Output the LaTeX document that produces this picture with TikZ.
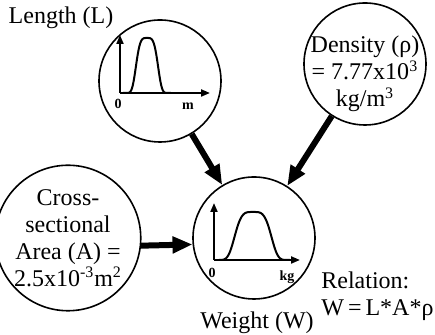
\documentclass[tikz,border=0pt]{standalone}
\usepackage{fontspec}
\setmainfont{Liberation Serif}
\usetikzlibrary{arrows.meta}

\begin{document}
\begin{tikzpicture}[x=0.5pt, y=-0.5pt,
  every node/.style={align=center, font=\fontsize{12}{13.5}\selectfont},
  bubble/.style={draw, circle, line width=0.8pt, minimum size=61pt, inner sep=0pt},
  feed/.style={-{Triangle[length=10pt,width=8pt]}, line width=3pt},
  axis/.style={-{Triangle[length=4.5pt,width=3.5pt]}, line width=1pt},
  tick/.style={font=\fontsize{7}{8}\bfseries\selectfont},
  declare function={bump(\t)=exp(-(\t*\t)*(\t*\t));}]
\useasboundingbox (0,0) rectangle (435,335);
\node[bubble] (len) at (160,81) {};
\node[bubble] (den) at (365,64) {};
\node[bubble] (area) at (68,238) {Cross-\\sectional\\Area (A) =\\2.5x10\textsuperscript{-3}m\textsuperscript{2}};
\node[bubble] (wt) at (254,238) {};
\node (lenlbl) at (61,18) {Length (L)};
\node (dentxt) at (365,74) {Density (ρ)\\= 7.77x10\textsuperscript{3}\\kg/m\textsuperscript{3}};
\node (wtlbl) at (257,323) {Weight (W)};
\node[anchor=west, align=left, inner sep=0pt] (rel) at (321,296) {Relation:\\W\,=\,L*A*ρ};
% length distribution
\draw[axis] (120,93) -- (120,35);
\draw[axis] (120,93) -- (210,93);
\draw[line width=1pt] plot[domain=123:171, samples=60] (\x, {93-55*bump((\x-147)/12)});
\node[tick] (lzero) at (118,104) {0};
\node[tick] (lunit) at (188,106) {m};
% weight distribution
\draw[axis] (214,260) -- (214,203);
\draw[axis] (214,260) -- (300,260);
\draw[line width=1pt] plot[domain=219:290, samples=70] (\x, {260-48*bump((\x-253)/20)});
\node[tick] (wzero) at (212,273) {0};
\node[tick] (wunit) at (287,277) {kg};
\draw[feed] (len) -- (wt);
\draw[feed] (den) -- (wt);
\draw[feed] (area.-6) -- (wt.186);
\end{tikzpicture}
\end{document}
